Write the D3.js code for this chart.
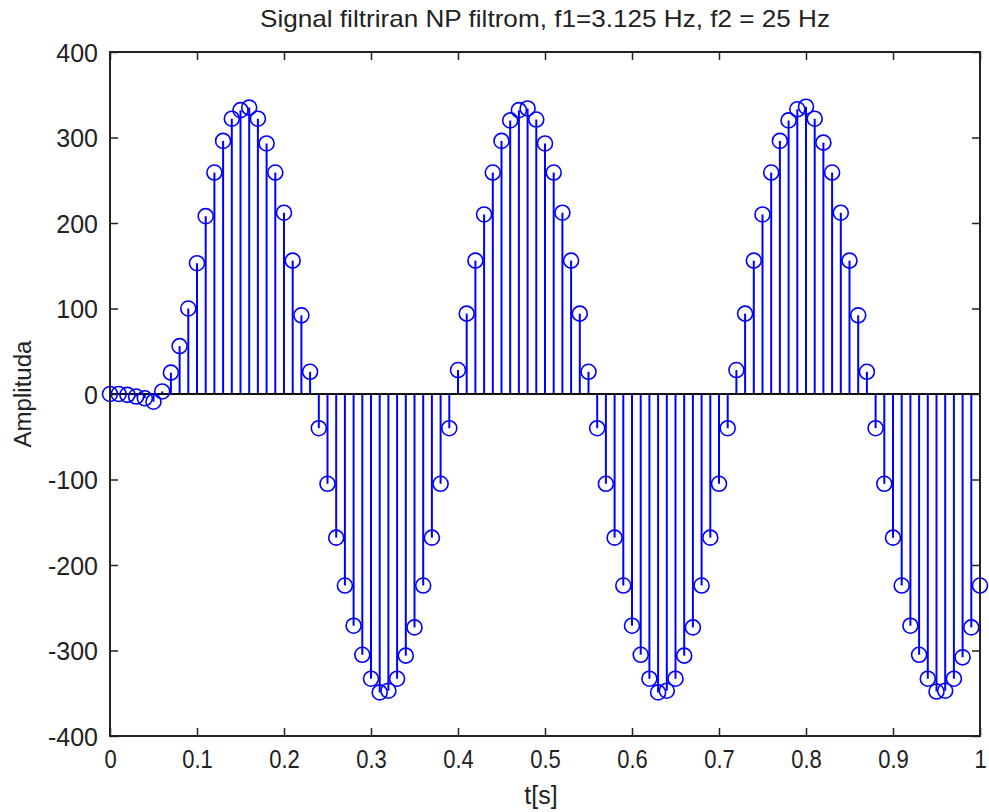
<!DOCTYPE html>
<html>
<head>
<meta charset="utf-8">
<script src="https://cdn.jsdelivr.net/npm/d3@7"></script>
<style>
  body { margin: 0; background: #fff; }
  text { font-family: Arial, "Liberation Sans", sans-serif; fill: #222; }
</style>
</head>
<body>
<div class="vis-stem"></div>
<script>
// sampling of the filtered signal, 0..1 s, every 0.01 s
const sampleStep = 0.01;
const amplitude = [
  0, 0, -1, -3, -5, -9, 3, 25, 56, 100,
  153, 208, 259, 296, 322, 332, 335, 322, 293, 259,
  212, 156, 92, 26, -40, -105, -168, -224, -271, -305,
  -333, -349, -347, -333, -306, -273, -224, -168, -105, -40,
  28, 94, 156, 210, 259, 296, 320, 332, 334, 321,
  293, 259, 212, 156, 94, 26, -40, -105, -168, -224,
  -271, -305, -333, -349, -347, -333, -306, -273, -224, -168,
  -105, -40, 28, 94, 156, 210, 259, 296, 320, 333,
  336, 322, 294, 259, 212, 156, 92, 26, -40, -105,
  -168, -224, -271, -305, -333, -348, -347, -333, -308, -273,
  -224
];
const xTicks = [0, 0.1, 0.2, 0.3, 0.4, 0.5, 0.6, 0.7, 0.8, 0.9, 1];
const yTicks = [-400, -300, -200, -100, 0, 100, 200, 300, 400];
const titleText = 'Signal filtriran NP filtrom, f1=3.125 Hz, f2 = 25 Hz';

const W = 989, H = 812;
const margin = {top: 52, right: 9, bottom: 76, left: 110};
const width = W - margin.left - margin.right;
const height = H - margin.top - margin.bottom;

const data = amplitude.map((v, i) => ({t: i * sampleStep, v: v}));

const svg = d3.select('.vis-stem').append('svg')
  .attr('width', W)
  .attr('height', H);

const g = svg.append('g')
  .attr('transform', `translate(${margin.left},${margin.top})`);

const x = d3.scaleLinear().domain([0, 1]).range([0, width]);
const y = d3.scaleLinear().domain([-400, 400]).range([height, 0]);

const blue = '#0000ff';

// stems
g.selectAll('line.stem')
  .data(data)
  .enter().append('line')
    .attr('class', 'stem')
    .attr('x1', d => x(d.t)).attr('x2', d => x(d.t))
    .attr('y1', y(0)).attr('y2', d => y(d.v))
    .attr('stroke', blue)
    .attr('stroke-width', 2);

// baseline
g.append('line')
  .attr('x1', 0).attr('x2', width)
  .attr('y1', y(0)).attr('y2', y(0))
  .attr('stroke', '#111')
  .attr('stroke-width', 2);

// markers
g.selectAll('circle.mk')
  .data(data)
  .enter().append('circle')
    .attr('class', 'mk')
    .attr('cx', d => x(d.t))
    .attr('cy', d => y(d.v))
    .attr('r', 7.5)
    .attr('fill', 'none')
    .attr('stroke', blue)
    .attr('stroke-width', 1.6);

// box + inward ticks (matlab style)
const tickLen = 8;
const axisCol = '#222';
g.append('rect')
  .attr('width', width).attr('height', height)
  .attr('fill', 'none')
  .attr('stroke', axisCol)
  .attr('stroke-width', 2);

const xAxis = d3.axisBottom(x).tickValues(xTicks).tickSize(-tickLen).tickPadding(14)
  .tickFormat(d => d === 0 || d === 1 ? String(d) : d.toFixed(1));
const gx = g.append('g').attr('transform', `translate(0,${height})`).call(xAxis);
const gxTop = g.append('g').call(d3.axisTop(x).tickValues(xTicks).tickSize(-tickLen).tickFormat(''));

// plain hyphen for negatives, like the original
const yAxis = d3.axisLeft(y).tickValues(yTicks).tickSize(-tickLen).tickPadding(12)
  .tickFormat(d => String(d));
const gy = g.append('g').call(yAxis);
const gyRight = g.append('g').attr('transform', `translate(${width},0)`)
  .call(d3.axisRight(y).tickValues(yTicks).tickSize(-tickLen).tickFormat(''));

[gx, gxTop, gy, gyRight].forEach(a => {
  a.select('.domain').remove();
  a.selectAll('.tick line').attr('stroke', axisCol).attr('stroke-width', 1.5);
  a.selectAll('text')
    .style('font-family', 'Arial, "Liberation Sans", sans-serif')
    .style('font-size', '25px')
    .attr('fill', '#222');
});
gx.selectAll('text').attr('transform', 'scale(0.88,1)')
  .attr('x', 0);
gy.selectAll('text').attr('dy', '0.36em');

// title and axis labels
svg.append('text')
  .attr('x', margin.left + width / 2)
  .attr('y', 27)
  .attr('text-anchor', 'middle')
  .attr('textLength', 570)
  .attr('lengthAdjust', 'spacingAndGlyphs')
  .style('font-size', '24px')
  .text(titleText);

svg.append('text')
  .attr('x', margin.left + width / 2 - 4)
  .attr('y', 804)
  .attr('text-anchor', 'middle')
  .style('font-size', '25px')
  .text('t[s]');

svg.append('text')
  .attr('transform', `translate(31,${margin.top + y(0)}) rotate(-90)`)
  .attr('text-anchor', 'middle')
  .attr('textLength', 107)
  .attr('lengthAdjust', 'spacingAndGlyphs')
  .style('font-size', '23px')
  .text('Amplituda');
</script>
</body>
</html>
